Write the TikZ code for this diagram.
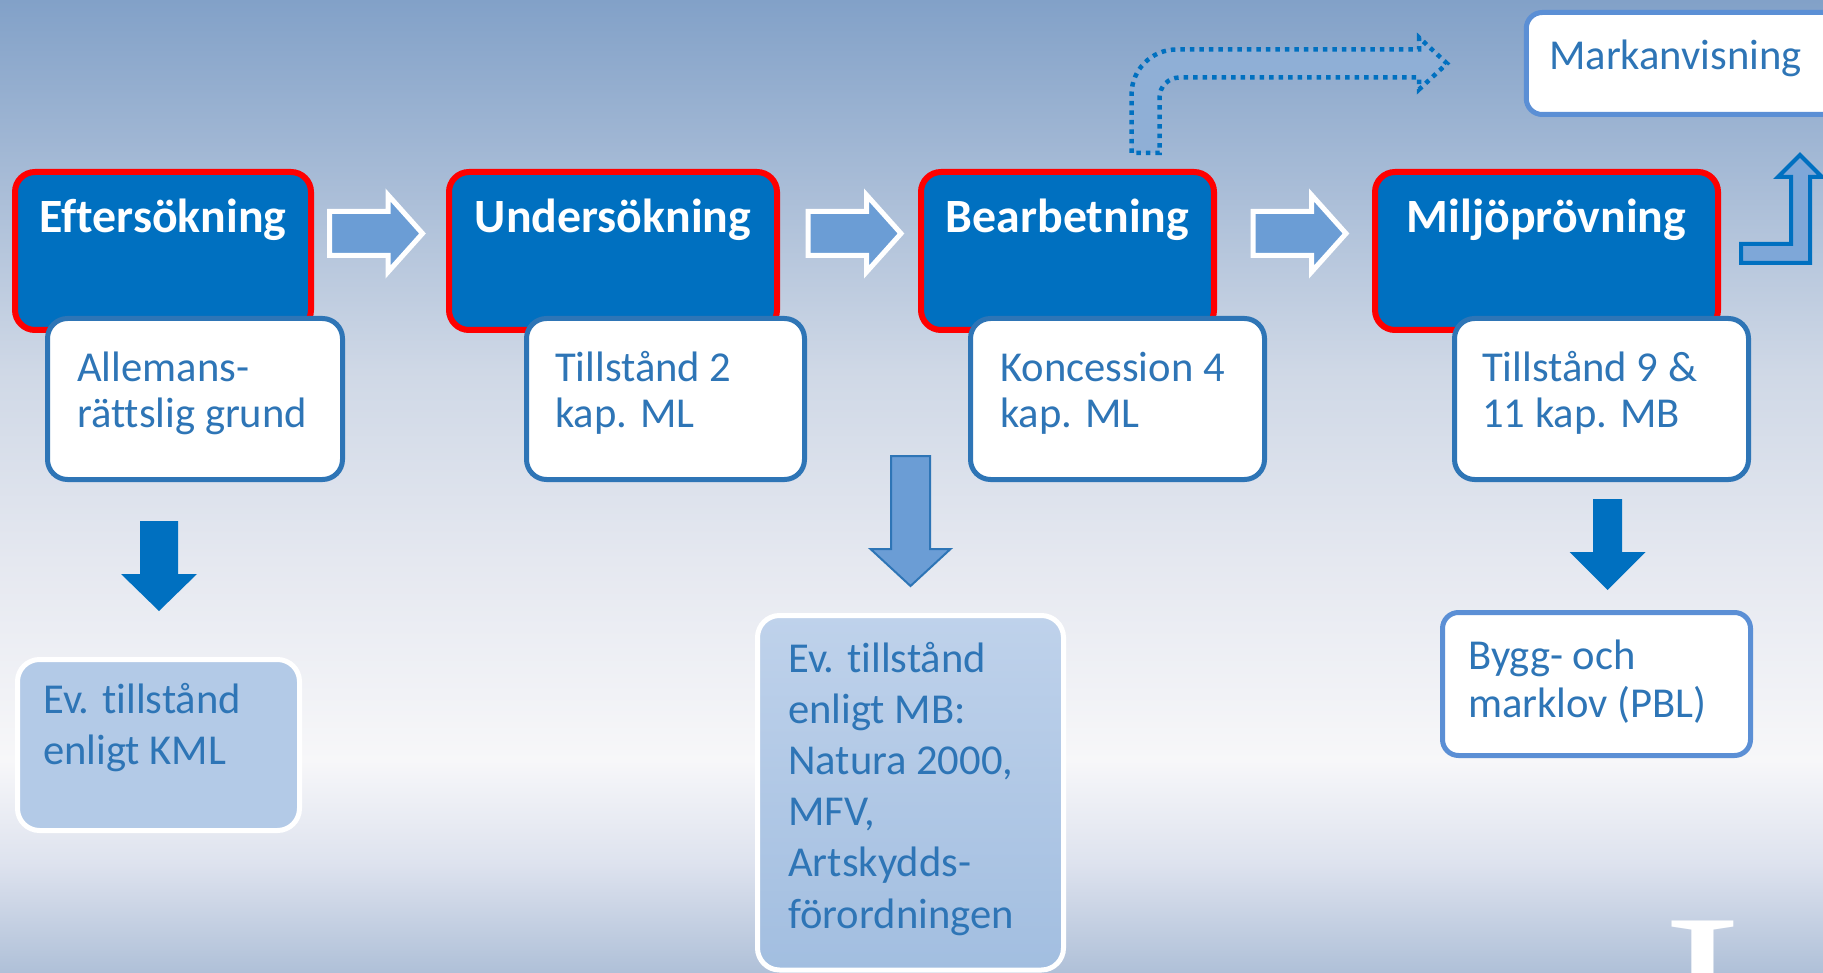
\documentclass[tikz,border=0pt]{standalone}
\usepackage{fontspec}
\setmainfont[Ligatures={NoCommon}]{Carlito}
\newfontfamily\serifI{Liberation Serif}
\definecolor{bgA}{HTML}{82A1C8}
\definecolor{bgB}{HTML}{CFD8E6}
\definecolor{bgC}{HTML}{E5E8F0}
\definecolor{bgD}{HTML}{F7F7F9}
\definecolor{bgE}{HTML}{DDE2EE}
\definecolor{bgF}{HTML}{AFC0D8}
\definecolor{hblue}{HTML}{0070C0}
\definecolor{hred}{HTML}{FF0000}
\definecolor{sblue}{HTML}{2E75B6}
\definecolor{lblue}{HTML}{5B8FD5}
\definecolor{afill}{HTML}{6B9DD5}
\definecolor{ufill}{HTML}{7EA7D8}
\definecolor{dfill}{HTML}{8FAFD6}
\definecolor{pfill}{HTML}{B3CAE7}
\definecolor{ptop}{HTML}{BFD2EB}
\definecolor{pbot}{HTML}{A2BEE0}
\newcommand\mylines[2]{\parbox[t]{400pt}{\fontsize{42.6}{#1}\selectfont\raggedright #2}}
\begin{document}
\begin{tikzpicture}[x=1pt,y=-1pt,
  headbox/.style={draw=hred, line width=6pt, fill=hblue, rounded corners=20pt, minimum height=158pt, inner sep=0pt},
  subbox/.style={draw=sblue, line width=5pt, fill=white, rounded corners=20pt, minimum height=161pt, inner sep=0pt},
  lightbox/.style={draw=lblue, line width=5pt, fill=white, rounded corners=16pt, inner sep=0pt},
  patbox/.style={draw=white, line width=5pt, rounded corners=22pt, inner sep=0pt},
  headtext/.style={text=white, font=\fontsize{47.8}{52}\selectfont\bfseries, anchor=base, inner sep=0pt},
  bodytext/.style={text=sblue, anchor=base west, inner sep=0pt},
  blockarrow/.style={draw=white, line width=5pt, fill=afill, line join=miter},
  solidarrow/.style={fill=hblue},
  patarrow/.style={draw=sblue, line width=2pt, fill=afill, line join=miter},
  dotarrow/.style={draw=hblue, line width=4.5pt, dash pattern=on 4.5pt off 5pt, fill=dfill},
  upbent/.style={draw=hblue, line width=4pt, fill=ufill, line join=miter}
]
\useasboundingbox (0,0) rectangle (1823,973);
\clip (0,0) rectangle (1823,973);
% background
\shade[top color=bgA, bottom color=bgB] (0,0) rectangle (1823,371);
\shade[top color=bgB, bottom color=bgC] (0,370) rectangle (1823,561);
\shade[top color=bgC, bottom color=bgD] (0,560) rectangle (1823,761);
\shade[top color=bgD, bottom color=bgE] (0,760) rectangle (1823,866);
\shade[top color=bgE, bottom color=bgF] (0,865) rectangle (1823,973);

% logo letter
\node[text=white, font=\serifI\fontsize{236}{236}\selectfont, anchor=base, inner sep=0pt] (logo) at (1703,1075) {I};

% heading boxes
\node[headbox, minimum width=296pt] (h1) at (163,251) {};
\node[headbox, minimum width=328pt] (h2) at (613,251) {};
\node[headbox, minimum width=293pt] (h3) at (1067.5,251) {};
\node[headbox, minimum width=343pt] (h4) at (1546.5,251) {};
\node[headtext] (t1) at (163,233) {Eftersökning};
\node[headtext] (t2) at (613,233) {Undersökning};
\node[headtext] (t3) at (1067.5,233) {Bearbetning};
\node[headtext] (t4) at (1546.5,233) {Miljöprövning};

% sub boxes
\node[subbox, minimum width=295pt] (s1) at (195,399) {};
\node[subbox, minimum width=278pt] (s2) at (665.5,399) {};
\node[subbox, minimum width=294pt] (s3) at (1117.5,399) {};
\node[subbox, minimum width=294pt] (s4) at (1601.5,399) {};
\node[bodytext] (u1) at (77,382) {\mylines{45}{Allemans-\\rättslig grund}};
\node[bodytext] (u2) at (555,382) {\mylines{45}{Tillstånd 2\\kap. ML}};
\node[bodytext] (u3) at (1000,382) {\mylines{45}{Koncession 4\\kap. ML}};
\node[bodytext] (u4) at (1482,382) {\mylines{45}{Tillstånd 9 \&\\11 kap. MB}};

% right block arrows
\coordinate (r1) at (329.5,233.5);
\coordinate (r2) at (808,233.5);
\coordinate (r3) at (1253,233.5);
\foreach \r in {r1,r2,r3}{
  \draw[blockarrow] (\r) ++(0,-22) -- ++(58.5,0) -- ++(0,-16.5) -- ++(34.5,38.5) -- ++(-34.5,38.5) -- ++(0,-16.5) -- ++(-58.5,0) -- cycle;
}

% dotted bent arrow from Bearbetning
\coordinate (dt) at (1145.5,153);
\draw[dotarrow] (1131.5,153) -- (1131.5,94.5) .. controls (1131.5,69.65) and (1151.65,49.5) .. (1176.5,49.5)
  -- (1419,49.5) -- (1419,37.5) -- (1447,63.5) -- (1419,89.5) -- (1419,77.5) -- (1179.5,77.5)
  .. controls (1168.5,77.5) and (1159.5,86.5) .. (1159.5,97.5) -- (1159.5,153) -- cycle;

% Markanvisning
\node[lightbox, minimum width=323.5pt, minimum height=102pt] (mk) at (1688,63.5) {};
\node[bodytext, font=\fontsize{42.6}{46}\selectfont] (mkt) at (1549,70) {Markanvisning};

% bent up arrow
\coordinate (ub) at (1741,253.5);
\draw[upbent] (1741,244) -- (1791,244) -- (1791,177) -- (1778,177) -- (1800,155) -- (1822,177) -- (1810,177) -- (1810,263) -- (1741,263) -- cycle;

% down arrows
\coordinate (d1) at (159,521);
\coordinate (d2) at (910.5,456);
\coordinate (d3) at (1607.5,499);
\fill[solidarrow] (d1) ++(-19,0) -- ++(38,0) -- ++(0,53) -- ++(19,0) -- ++(-38,37) -- ++(-38,-37) -- ++(19,0) -- cycle;
\draw[patarrow] (d2) ++(-19.5,0) -- ++(39,0) -- ++(0,93) -- ++(20.5,0) -- ++(-40,37) -- ++(-40,-37) -- ++(20.5,0) -- cycle;
\fill[solidarrow] (d3) ++(-14.5,0) -- ++(29,0) -- ++(0,53) -- ++(23.5,0) -- ++(-38,38) -- ++(-38,-38) -- ++(23.5,0) -- cycle;

% bottom boxes
\node[patbox, fill=pfill, minimum width=282pt, minimum height=171pt] (km) at (158.5,745) {};
\node[bodytext] (kmt) at (43,713) {\mylines{51.2}{Ev. tillstånd\\enligt KML}};
\node[patbox, top color=ptop, bottom color=pbot, minimum width=306pt, minimum height=354.5pt] (mb) at (910.5,792.75) {};
\node[bodytext] (mbt) at (788,672) {\mylines{51.2}{Ev. tillstånd\\enligt MB:\\Natura 2000,\\MFV,\\Artskydds-\\förordningen}};
\node[lightbox, minimum width=308pt, minimum height=143pt] (by) at (1596.5,684) {};
\node[bodytext] (byt) at (1468,669) {\mylines{48}{Bygg- och\\marklov (PBL)}};
\end{tikzpicture}
\end{document}
